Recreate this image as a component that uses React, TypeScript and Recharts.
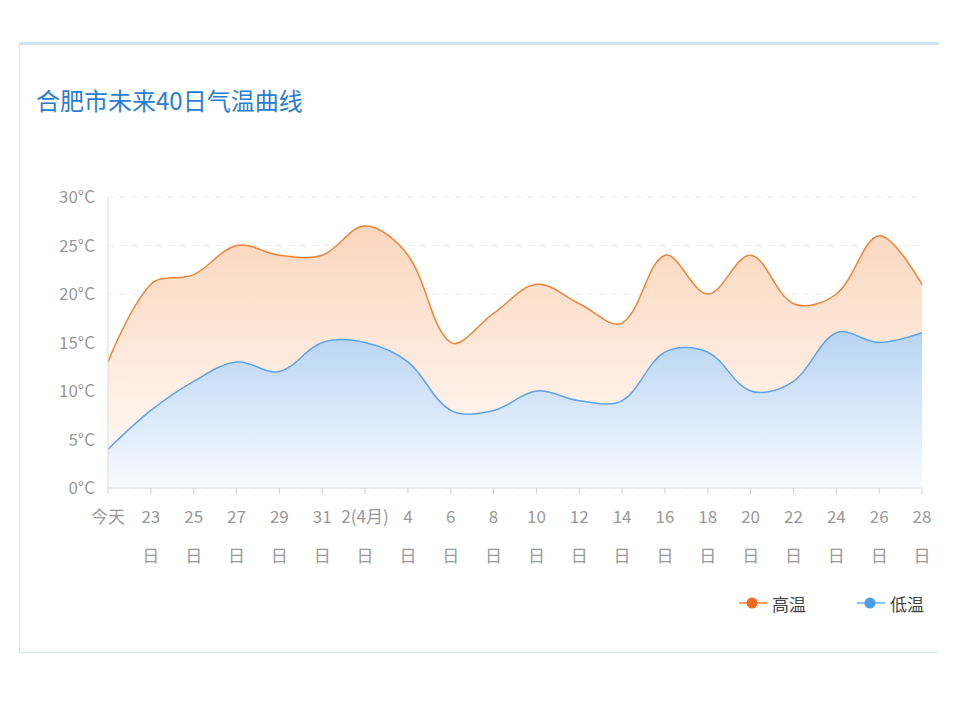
import { Area, AreaChart, CartesianGrid, XAxis, YAxis } from "recharts";

const dateLabels = ["今天", "23", "25", "27", "29", "31", "2(4月)", "4", "6", "8", "10", "12", "14", "16", "18", "20", "22", "24", "26", "28"];
const highTemps = [13, 21, 22, 25, 24, 24, 27, 24, 15, 18, 21, 19, 17, 24, 20, 24, 19, 20, 26, 21];
const lowTemps = [4, 8, 11, 13, 12, 15, 15, 13, 8, 8, 10, 9, 9, 14, 14, 10, 11, 16, 15, 16];
const yTicks = [0, 5, 10, 15, 20, 25, 30];

const data = dateLabels.map((day, i) => ({ day, high: highTemps[i], low: lowTemps[i] }));

const font = '"Noto Sans CJK SC", "Noto Sans", sans-serif';

// bezier smoothing weighted by segment length (similar to echarts "smooth")
function smoothCurve(s: number) {
  return (context: any) => {
    let pts: number[][] = [];
    let line = NaN;
    const draw = () => {
      const n = pts.length;
      if (!n) return;
      const cpIn: number[][] = [];
      const cpOut: number[][] = [];
      for (let i = 0; i < n; i++) {
        const p = pts[i];
        if (i === 0 || i === n - 1) {
          cpIn.push(p);
          cpOut.push(p);
          continue;
        }
        const prev = pts[i - 1];
        const next = pts[i + 1];
        const vx = (next[0] - prev[0]) * s;
        const vy = (next[1] - prev[1]) * s;
        const d0 = Math.hypot(p[0] - prev[0], p[1] - prev[1]);
        const d1 = Math.hypot(next[0] - p[0], next[1] - p[1]);
        const sum = d0 + d1 || 1;
        cpIn.push([p[0] - (vx * d0) / sum, p[1] - (vy * d0) / sum]);
        cpOut.push([p[0] + (vx * d1) / sum, p[1] + (vy * d1) / sum]);
      }
      if (line) context.lineTo(pts[0][0], pts[0][1]);
      else context.moveTo(pts[0][0], pts[0][1]);
      for (let i = 0; i < n - 1; i++) {
        context.bezierCurveTo(cpOut[i][0], cpOut[i][1], cpIn[i + 1][0], cpIn[i + 1][1], pts[i + 1][0], pts[i + 1][1]);
      }
    };
    return {
      areaStart() {
        line = 0;
      },
      areaEnd() {
        line = NaN;
      },
      lineStart() {
        pts = [];
      },
      lineEnd() {
        draw();
        if (line === 1) context.closePath();
        line = 1 - line;
      },
      point(x: number, y: number) {
        pts.push([+x, +y]);
      },
    };
  };
}

const curve = smoothCurve(0.35);

function DayTick({ x, y, payload }: any) {
  const label = payload.value as string;
  return (
    <g>
      <text x={x} y={y + 29} textAnchor="middle" fill="#999" fontSize={17} fontFamily={font}>
        {label}
      </text>
      {label !== "今天" && (
        <text x={x} y={y + 68} textAnchor="middle" fill="#999" fontSize={17} fontFamily={font}>
          日
        </text>
      )}
    </g>
  );
}

function LegendItem({ color, lineColor, label, left }: { color: string; lineColor: string; label: string; left: number }) {
  return (
    <div style={{ position: "absolute", left, top: 591, height: 24, display: "flex", alignItems: "center" }}>
      <svg width={28} height={24}>
        <line x1={0} y1={12} x2={28} y2={12} stroke={lineColor} strokeWidth={2} />
        <circle cx={13} cy={12} r={5.5} fill={color} />
      </svg>
      <span style={{ marginLeft: 5, fontSize: 17, color: "#444", fontFamily: font }}>{label}</span>
    </div>
  );
}

export default function App() {
  return (
    <div style={{ position: "absolute", left: 0, top: 0, width: 960, height: 720, background: "#fff" }}>
      <div
        style={{
          position: "absolute",
          left: 19,
          top: 42,
          width: 919,
          height: 607,
          borderTop: "3px solid #cfe3f5",
          borderLeft: "1px solid #d6e7f6",
          borderBottom: "1px solid #d6e7f6",
        }}
      />
      <div
        style={{
          position: "absolute",
          left: 36,
          top: 84,
          fontSize: 24,
          color: "#2a7dd2",
          fontFamily: font,
          lineHeight: "32px",
        }}
      >
        合肥市未来40日气温曲线
      </div>
      <div style={{ position: "absolute", left: 0, top: 0 }}>
        <AreaChart width={960} height={720} data={data} margin={{ top: 197, right: 38, left: 8, bottom: 172 }}>
          <defs>
            <linearGradient id="highFill" x1="0" y1="0" x2="0" y2="1">
              <stop offset="0%" stopColor="#fbd6bd" />
              <stop offset="100%" stopColor="#fffdfb" />
            </linearGradient>
            <linearGradient id="lowFill" x1="0" y1="0" x2="0" y2="1">
              <stop offset="0%" stopColor="#b8d4f3" />
              <stop offset="100%" stopColor="#f8fbff" />
            </linearGradient>
          </defs>
          <CartesianGrid vertical={false} stroke="#ececec" strokeDasharray="6 6" />
          <XAxis
            dataKey="day"
            interval={0}
            height={60}
            tickSize={6}
            tickMargin={0}
            axisLine={{ stroke: "#dcdcdc" }}
            tickLine={{ stroke: "#d0d0d0" }}
            tick={<DayTick />}
          />
          <YAxis
            width={100}
            domain={[0, 30]}
            ticks={yTicks}
            tickFormatter={(v) => `${v}°C`}
            axisLine={{ stroke: "#dcdcdc" }}
            tickLine={false}
            tickSize={0}
            tickMargin={13}
            tick={{ fill: "#999", fontSize: 17, fontFamily: font }}
          />
          <Area
            type={curve as any}
            dataKey="high"
            stroke="#ee8538"
            strokeWidth={1.5}
            fill="url(#highFill)"
            fillOpacity={1}
            dot={false}
            activeDot={false}
            isAnimationActive={false}
          />
          <Area
            type={curve as any}
            dataKey="low"
            stroke="#5ea3e6"
            strokeWidth={1.5}
            fill="url(#lowFill)"
            fillOpacity={1}
            dot={false}
            activeDot={false}
            isAnimationActive={false}
          />
        </AreaChart>
      </div>
      <LegendItem color="#f06c1c" lineColor="#f5a26a" label="高温" left={739} />
      <LegendItem color="#4a9fea" lineColor="#8fc2f0" label="低温" left={857} />
    </div>
  );
}
